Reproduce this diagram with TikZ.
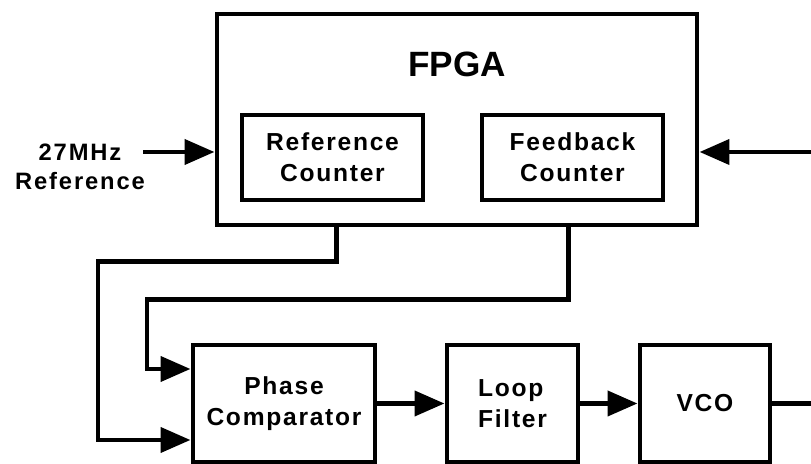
\documentclass[tikz,border=0pt]{standalone}
\usepackage{fontspec}
\usepackage{tikz}
\usetikzlibrary{arrows.meta}
\setmainfont{Liberation Sans}
\newfontfamily\spacedfont[LetterSpace=7]{Liberation Sans}
\newfontfamily\widefont[LetterSpace=8]{Liberation Sans}

\begin{document}
\begin{tikzpicture}[line width=2.8pt,
    blk/.style={draw,line width=2.8pt,inner sep=0pt,align=center,
      font=\spacedfont\bfseries\fontsize{14}{17.5}\selectfont},
    txt/.style={inner sep=0pt,align=center,font=\widefont\bfseries\fontsize{13.5}{16.5}\selectfont},
    sig/.style={-{Triangle[length=17pt,width=14pt]},line width=2.8pt}]
  \useasboundingbox (0,0) rectangle (16.22,9.28);
  \node[blk,minimum width=9.6cm,minimum height=4.22cm] (fpga) at (9.14,6.89) {};
  \node[inner sep=0pt,font=\bfseries\fontsize{20}{24}\selectfont] (fpgatitle) at (9.14,8.0) {FPGA};
  \node[blk,minimum width=3.62cm,minimum height=1.7cm] (refc) at (6.65,6.13) {Reference\\Counter};
  \node[blk,minimum width=3.62cm,minimum height=1.7cm] (fbc) at (11.45,6.13) {Feedback\\Counter};
  \node[blk,minimum width=3.64cm,minimum height=2.34cm] (pc) at (5.68,1.21) {Phase\\Comparator};
  \node[blk,align=left,minimum width=2.62cm,minimum height=2.34cm] (lf) at (10.25,1.21) {Loop\\Filter};
  \node[blk,minimum width=2.6cm,minimum height=2.34cm] (vco) at (14.1,1.21) {VCO};
  \node[txt] (reflbl) at (1.6,5.94) {27MHz\\Reference};
  \coordinate (refin) at (2.86,6.24);
  \coordinate (fbin) at (16.22,6.24);
  \coordinate (vcoout) at (16.22,1.21);
  \draw[sig] (refin) -- (refin -| fpga.west);
  \draw[sig] (fbin) -- (fbin -| fpga.east);
  \draw[sig] ([xshift=2.5pt]refc |- fpga.south) -- ++(0,-0.68) -| (1.96,0.48) -- (pc.west |- 0,0.48);
  \draw[sig] ([xshift=-2.5pt]fbc |- fpga.south) -- ++(0,-1.44) -| (2.94,1.9) -- (pc.west |- 0,1.9);
  \draw[sig] (pc) -- (lf);
  \draw[sig] (lf) -- (vco);
  \draw (vco) -- (vcoout);
\end{tikzpicture}
\end{document}
